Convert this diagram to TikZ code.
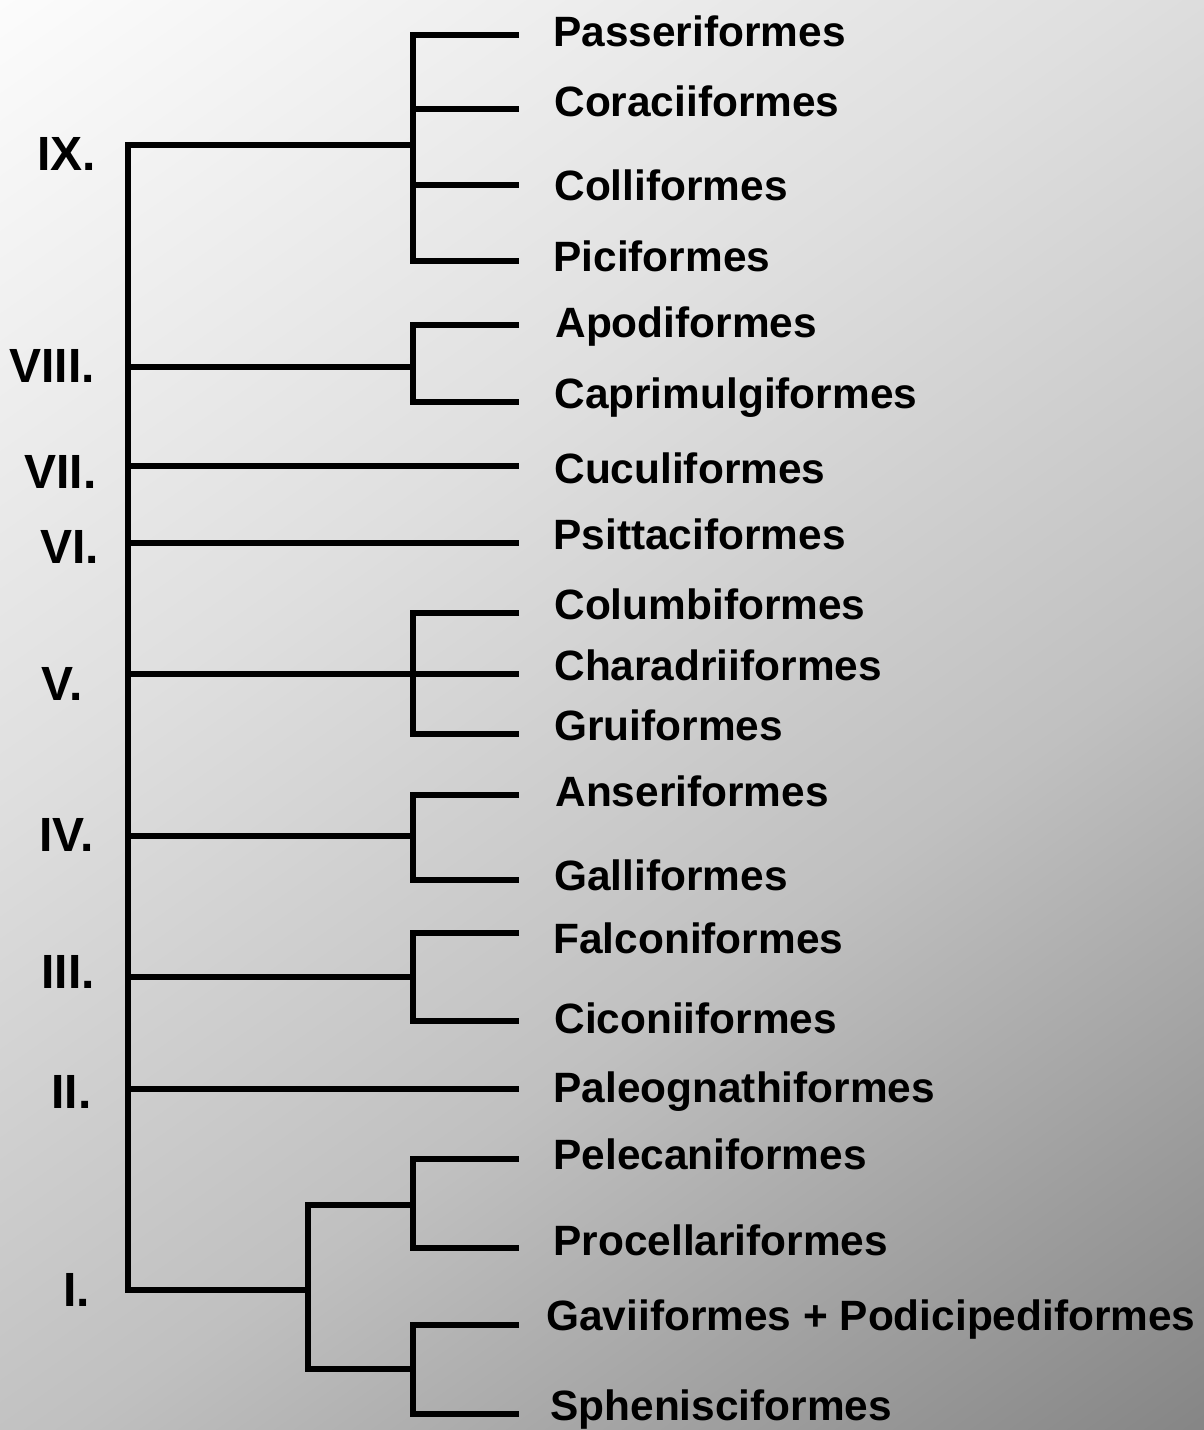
\documentclass[tikz,border=0pt]{standalone}
\usepackage{fontspec}
\setmainfont{Liberation Sans}
\newcommand\leaffont{\fontsize{21.2}{25}\selectfont\bfseries}
\newcommand\numfont{\fontsize{24}{28}\selectfont\bfseries}
\definecolor{bgA}{HTML}{FCFCFC}
\definecolor{bgB}{HTML}{DFDFDF}
\definecolor{bgC}{HTML}{C0C0C0}
\definecolor{bgD}{HTML}{858585}
\pgfdeclarehorizontalshading{bgshade}{100bp}{color(0bp)=(bgA); color(25bp)=(bgA); color(42.5bp)=(bgB); color(57.5bp)=(bgC); color(75bp)=(bgD); color(100bp)=(bgD)}
\tikzset{
  leaf/.style={anchor=base west, inner sep=0pt, font=\leaffont, text=black},
  num/.style={anchor=base west, inner sep=0pt, font=\numfont, text=black},
  branch/.style={line width=2.85pt, line join=miter, draw=black},
}
\begin{document}
\begin{tikzpicture}[x=0.5pt, y=-0.5pt]
\useasboundingbox (0,0) rectangle (1204,1430);
% background
\begin{scope}
  \clip (0,0) rectangle (1204,1430);
  \shade[shading=bgshade, shading angle=-55] (602,715) circle [radius=467.4pt];
\end{scope}

% coordinates: backbone
\coordinate (r9) at (128,145);
\coordinate (r8) at (128,367);
\coordinate (r7) at (128,466);
\coordinate (r6) at (128,543);
\coordinate (r5) at (128,674);
\coordinate (r4) at (128,836);
\coordinate (r3) at (128,977);
\coordinate (r2) at (128,1089);
\coordinate (r1) at (128,1290);
% junctions
\coordinate (j9) at (413,145);
\coordinate (j8) at (413,367);
\coordinate (j5) at (413,674);
\coordinate (j4) at (413,836);
\coordinate (j3) at (413,977);
\coordinate (jI) at (308,1290);
\coordinate (jIa) at (413,1205);
\coordinate (jIb) at (413,1369);
% leaf ends
\coordinate (lpas) at (519,35);
\coordinate (lcor) at (519,109);
\coordinate (lcol) at (519,185);
\coordinate (lpic) at (519,261);
\coordinate (lapo) at (519,325);
\coordinate (lcap) at (519,402);
\coordinate (lcuc) at (519,466);
\coordinate (lpsi) at (519,543);
\coordinate (lclb) at (519,613);
\coordinate (lcha) at (519,674);
\coordinate (lgru) at (519,734);
\coordinate (lans) at (519,795);
\coordinate (lgal) at (519,880);
\coordinate (lfal) at (519,933);
\coordinate (lcic) at (519,1021);
\coordinate (lpal) at (519,1089);
\coordinate (lpel) at (519,1159);
\coordinate (lpro) at (519,1248);
\coordinate (lgav) at (519,1325);
\coordinate (lsph) at (519,1414);

% backbone
\draw[branch] (j9) -- (r9) -- (r1) -- (jI);
\draw[branch] (r8) -- (j8);
\draw[branch] (r7) -- (lcuc);
\draw[branch] (r6) -- (lpsi);
\draw[branch] (r5) -- (lcha);
\draw[branch] (r4) -- (j4);
\draw[branch] (r3) -- (j3);
\draw[branch] (r2) -- (lpal);

% IX
\draw[branch] (lpas) -| (j9) |- (lpic);
\draw[branch] (j9 |- lcor) -- (lcor);
\draw[branch] (j9 |- lcol) -- (lcol);
% VIII
\draw[branch] (lapo) -| (j8) |- (lcap);
% V
\draw[branch] (lclb) -| (j5) |- (lgru);
% IV
\draw[branch] (lans) -| (j4) |- (lgal);
% III
\draw[branch] (lfal) -| (j3) |- (lcic);
% I
\draw[branch] (jIa) -| (jI) |- (jIb);
\draw[branch] (lpel) -| (jIa) |- (lpro);
\draw[branch] (lgav) -| (jIb) |- (lsph);

% numerals
\node[num] (n9) at (37,170) {IX.};
\node[num] (n8) at (9,382) {VIII.};
\node[num] (n7) at (24,488) {VII.};
\node[num] (n6) at (40,563) {VI.};
\node[num] (n5) at (41,700) {V.};
\node[num] (n4) at (39,851) {IV.};
\node[num] (n3) at (41,988) {III.};
\node[num] (n2) at (51,1108) {II.};
\node[num] (n1) at (63,1306) {I.};

% leaf labels
\node[leaf] (tpas) at (553,46) {Passeriformes};
\node[leaf] (tcor) at (554,116) {Coraciiformes};
\node[leaf] (tcol) at (554,200) {Colliformes};
\node[leaf] (tpic) at (553,271) {Piciformes};
\node[leaf] (tapo) at (555,337) {Apodiformes};
\node[leaf] (tcap) at (554,408) {Caprimulgiformes};
\node[leaf] (tcuc) at (554,483) {Cuculiformes};
\node[leaf] (tpsi) at (553,549) {Psittaciformes};
\node[leaf] (tclb) at (554,619) {Columbiformes};
\node[leaf] (tcha) at (554,680) {Charadriiformes};
\node[leaf] (tgru) at (554,740) {Gruiformes};
\node[leaf] (tans) at (555,806) {Anseriformes};
\node[leaf] (tgal) at (554,890) {Galliformes};
\node[leaf] (tfal) at (553,953) {Falconiformes};
\node[leaf] (tcic) at (554,1033) {Ciconiiformes};
\node[leaf] (tpal) at (553,1102) {Paleognathiformes};
\node[leaf] (tpel) at (553,1169) {Pelecaniformes};
\node[leaf] (tpro) at (553,1255) {Procellariformes};
\node[leaf] (tgav) at (546,1330) {Gaviiformes + Podicipediformes};
\node[leaf] (tsph) at (550,1420) {Sphenisciformes};
\end{tikzpicture}
\end{document}
